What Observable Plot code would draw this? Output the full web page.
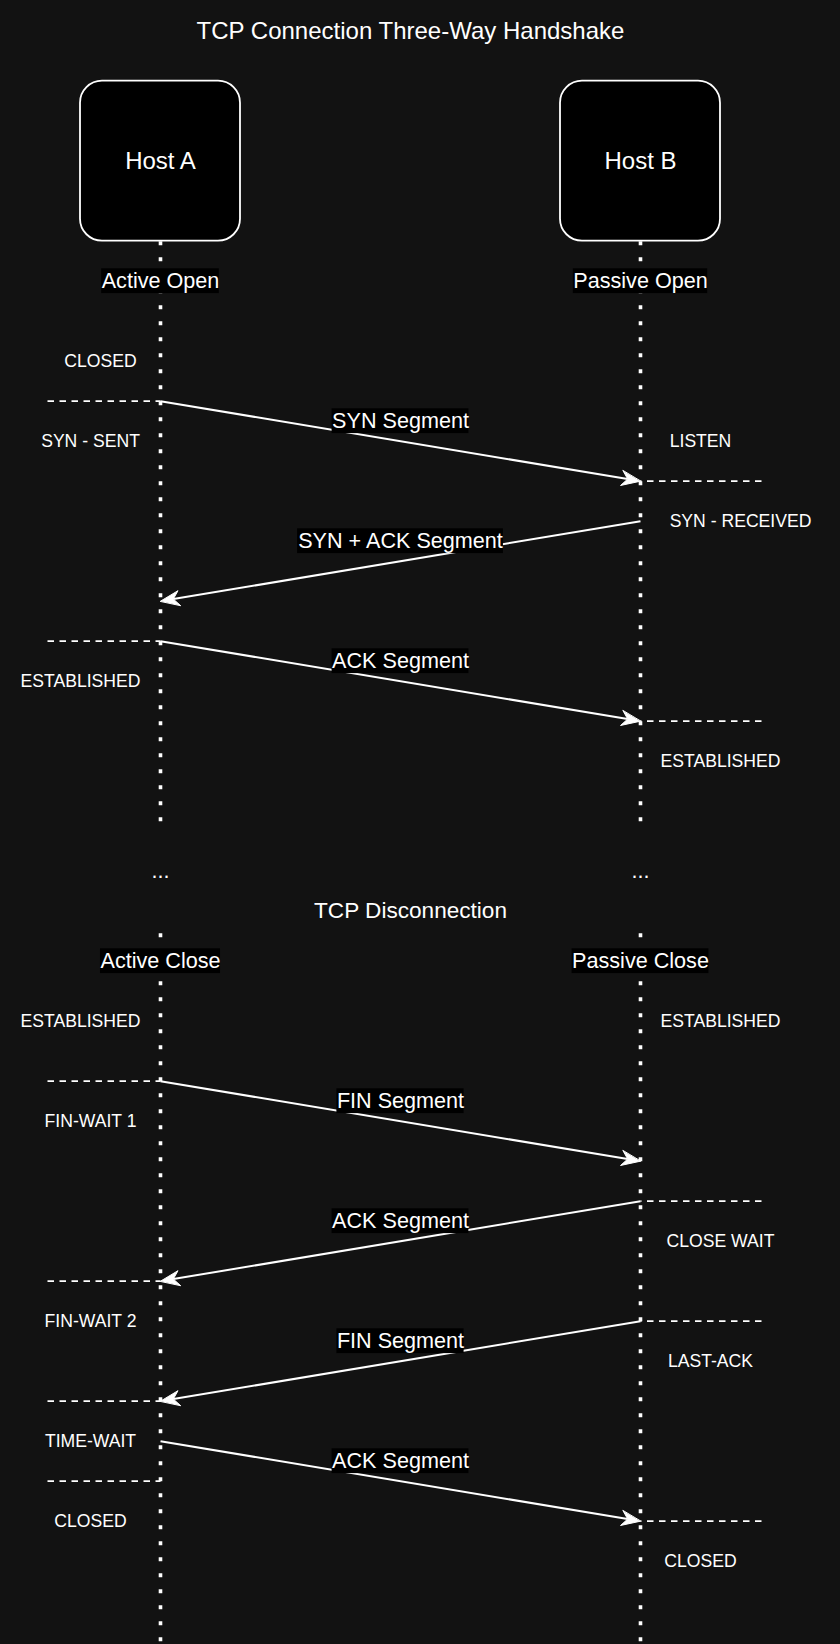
<!DOCTYPE html>
<html>
<head>
<meta charset="utf-8">
<script src="https://cdn.jsdelivr.net/npm/d3@7"></script>
<script src="https://cdn.jsdelivr.net/npm/@observablehq/plot@0.6"></script>
<style>
  html, body { margin: 0; padding: 0; background: #121212; }
  #chart { width: 840px; height: 1644px; }
</style>
</head>
<body>
<div id="chart"></div>
<script>
// grid units: one unit = 20px on both axes
const lanes = [
  {host: 'Host A', col: 8, open: 'Active Open', close: 'Active Close'},
  {host: 'Host B', col: 32, open: 'Passive Open', close: 'Passive Close'}
];

const segments = [
  {label: 'SYN Segment', from: 'Host A', to: 'Host B', sent: 20, recv: 24},
  {label: 'SYN + ACK Segment', from: 'Host B', to: 'Host A', sent: 26, recv: 30},
  {label: 'ACK Segment', from: 'Host A', to: 'Host B', sent: 32, recv: 36},
  {label: 'FIN Segment', from: 'Host A', to: 'Host B', sent: 54, recv: 58},
  {label: 'ACK Segment', from: 'Host B', to: 'Host A', sent: 60, recv: 64},
  {label: 'FIN Segment', from: 'Host B', to: 'Host A', sent: 66, recv: 70},
  {label: 'ACK Segment', from: 'Host A', to: 'Host B', sent: 72, recv: 76}
];

const states = [
  {host: 'Host A', state: 'CLOSED', t: 18, col: 5},
  {host: 'Host A', state: 'SYN - SENT', t: 22, col: 4.5},
  {host: 'Host B', state: 'LISTEN', t: 22, col: 35},
  {host: 'Host B', state: 'SYN - RECEIVED', t: 26, col: 37},
  {host: 'Host A', state: 'ESTABLISHED', t: 34, col: 4},
  {host: 'Host B', state: 'ESTABLISHED', t: 38, col: 36},
  {host: 'Host A', state: 'ESTABLISHED', t: 51, col: 4},
  {host: 'Host B', state: 'ESTABLISHED', t: 51, col: 36},
  {host: 'Host A', state: 'FIN-WAIT 1', t: 56, col: 4.5},
  {host: 'Host B', state: 'CLOSE WAIT', t: 62, col: 36},
  {host: 'Host A', state: 'FIN-WAIT 2', t: 66, col: 4.5},
  {host: 'Host B', state: 'LAST-ACK', t: 68, col: 35.5},
  {host: 'Host A', state: 'TIME-WAIT', t: 72, col: 4.5},
  {host: 'Host A', state: 'CLOSED', t: 76, col: 4.5},
  {host: 'Host B', state: 'CLOSED', t: 78, col: 35}
];

const transitions = [
  {host: 'Host A', t: 20}, {host: 'Host B', t: 24},
  {host: 'Host A', t: 32}, {host: 'Host B', t: 36},
  {host: 'Host A', t: 54}, {host: 'Host B', t: 60},
  {host: 'Host A', t: 64}, {host: 'Host B', t: 66},
  {host: 'Host A', t: 70}, {host: 'Host A', t: 74},
  {host: 'Host B', t: 76}
];

const lifelineParts = [{start: 12, end: 41}, {start: 46.6, end: 82.2}];
const titles = [
  {text: 'TCP Connection Three-Way Handshake', t: 1.5, size: 24},
  {text: 'TCP Disconnection', t: 45.5, size: 22.6}
];

const FONT = '"Liberation Sans", Arial, Helvetica, sans-serif';
const colOf = Object.fromEntries(lanes.map(d => [d.host, d.col]));

const ctx = document.createElement('canvas').getContext('2d');
function textUnits(s, size) {
  ctx.font = `${size}px "Liberation Sans"`;
  return ctx.measureText(s).width / 20;
}

// arrow geometry (in grid units)
const HL = 0.95, HW = 0.375, HN = 0.65;
const arrows = segments.map((d, i) => {
  const x1 = colOf[d.from], x2 = colOf[d.to], y1 = d.sent, y2 = d.recv;
  const len = Math.hypot(x2 - x1, y2 - y1);
  const ux = (x2 - x1) / len, uy = (y2 - y1) / len;
  const px = -uy, py = ux;
  const bx = x2 - HL * ux, by = y2 - HL * uy;
  const head = [
    [x2, y2],
    [bx + HW * px, by + HW * py],
    [x2 - HN * ux, y2 - HN * uy],
    [bx - HW * px, by - HW * py]
  ].map(([x, y]) => ({id: i, x, y}));
  return {...d, x1, y1, x2: x2 - HN * ux, y2: y2 - HN * uy, head, mx: (x1 + x2) / 2, my: d.sent + 1};
});

const lifelines = lanes.flatMap(l => lifelineParts.map(p => ({col: l.col, ...p})));
const phaseLabels = lanes.flatMap(l => [
  {text: l.open, col: l.col, t: 14},
  {text: l.close, col: l.col, t: 48}
]);

const LABEL = 21.6;

const chart = Plot.plot({
  width: 840,
  height: 1644,
  margin: 0,
  x: {domain: [0, 42], range: [0, 840], axis: null},
  y: {domain: [0, 82.2], range: [0.7, 1644.7], axis: null},
  style: {background: '#121212'},
  marks: [
    // lifelines
    Plot.link(lifelines, {
      x1: 'col', x2: 'col', y1: 'start', y2: 'end',
      stroke: 'white', strokeWidth: 3.6, strokeDasharray: '4 12'
    }),
    // state change markers
    Plot.link(transitions, {
      x1: d => d.host === 'Host A' ? 2.35 : 38.05,
      x2: d => colOf[d.host],
      y1: 't', y2: 't',
      stroke: 'white', strokeWidth: 1.8, strokeDasharray: '6.5 5.5'
    }),
    // hosts
    Plot.rect(lanes, {
      x1: d => d.col - 4, x2: d => d.col + 4, y1: 4, y2: 12,
      rx: 22, fill: 'black', stroke: 'white', strokeWidth: 1.8
    }),
    Plot.text(lanes, {
      x: 'col', y: 8, text: 'host',
      fill: 'white', fontSize: 24, fontFamily: FONT
    }),
    // phase labels
    Plot.rect(phaseLabels, {
      x1: d => d.col - textUnits(d.text, LABEL) / 2,
      x2: d => d.col + textUnits(d.text, LABEL) / 2,
      y1: d => d.t - 0.62, y2: d => d.t + 0.62,
      fill: 'black'
    }),
    Plot.text(phaseLabels, {
      x: 'col', y: 't', text: 'text',
      fill: 'white', fontSize: LABEL, fontFamily: FONT
    }),
    // messages
    Plot.link(arrows, {
      x1: 'x1', y1: 'y1', x2: 'x2', y2: 'y2',
      stroke: 'white', strokeWidth: 2
    }),
    Plot.line(arrows.flatMap(d => d.head), {
      x: 'x', y: 'y', z: 'id', curve: 'linear-closed',
      fill: 'white', stroke: 'white', strokeWidth: 1
    }),
    Plot.rect(arrows, {
      x1: d => d.mx - textUnits(d.label, LABEL) / 2,
      x2: d => d.mx + textUnits(d.label, LABEL) / 2,
      y1: d => d.my - 0.62, y2: d => d.my + 0.62,
      fill: 'black'
    }),
    Plot.text(arrows, {
      x: 'mx', y: 'my', text: 'label',
      fill: 'white', fontSize: LABEL, fontFamily: FONT
    }),
    // states
    Plot.text(states, {
      x: 'col', y: 't', text: 'state',
      fill: 'white', fontSize: 17.6, fontFamily: FONT
    }),
    // gap in the timeline
    Plot.text(lanes, {
      x: 'col', y: 43.5, text: () => '...',
      fill: 'white', fontSize: LABEL, fontFamily: FONT
    }),
    // titles
    Plot.text(titles, {
      x: 20.5, y: 't', text: 'text',
      fill: 'white', fontSize: d => d.size, fontFamily: FONT
    })
  ]
});

d3.select('#chart').append(() => chart);
</script>
</body>
</html>
